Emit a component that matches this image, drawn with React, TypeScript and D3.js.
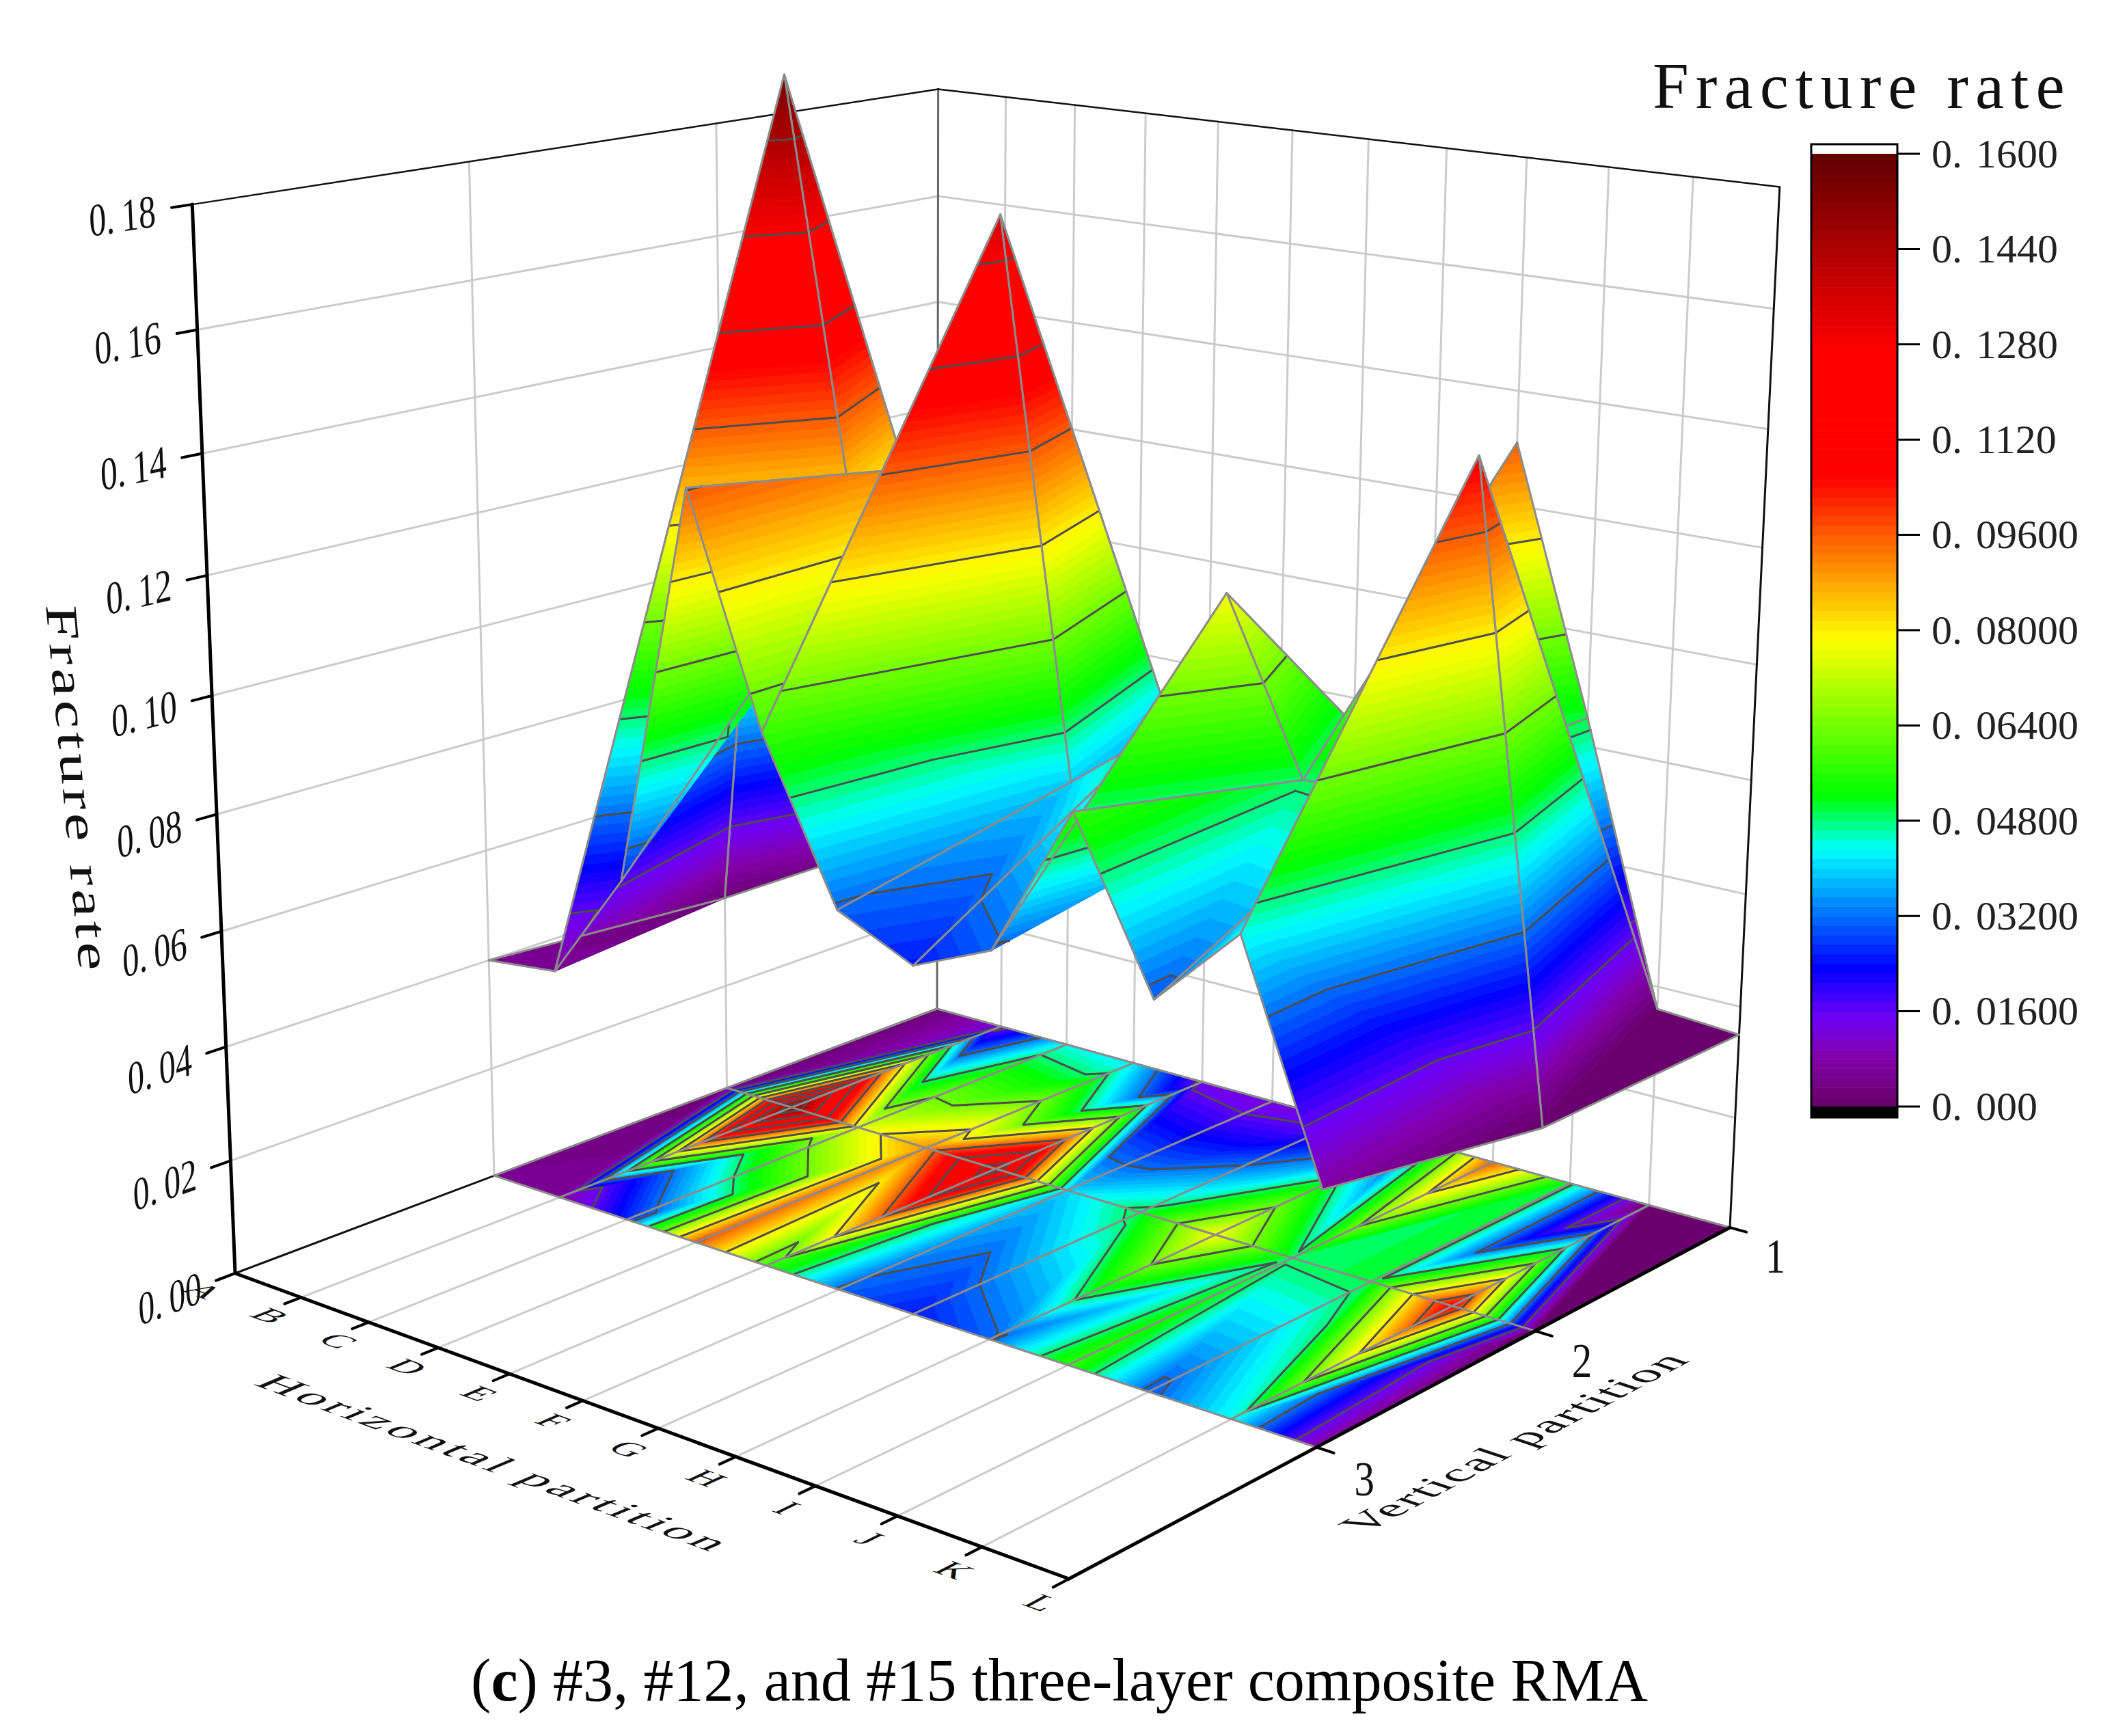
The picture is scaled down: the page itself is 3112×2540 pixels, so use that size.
import { useRef, useEffect } from "react";
import * as d3 from "d3";

const columns = ["A", "B", "C", "D", "E", "F", "G", "H", "I", "J", "K", "L"];
const rows = [1, 2, 3];
const row1 = [0.002, 0.013, 0.044, 0.042, 0.014, 0.012, 0.014, 0.029, 0.096, 0.05, 0.001, 0];
const row2 = [0.002, 0.155, 0.075, 0.09, 0.1357, 0.0395, 0.05, 0.078, 0.049, 0.05, 0.108, 0];
const row3 = [0.005, 0.0065, 0.026, 0.0964, 0.058, 0.031, 0.025, 0.031, 0.057, 0.03, 0.044, 0.007];
const grid = [row1, row2, row3];

const zTicks = [0, 0.02, 0.04, 0.06, 0.08, 0.1, 0.12, 0.14, 0.16, 0.18];
const legendTicks = ["0.000", "0.01600", "0.03200", "0.04800", "0.06400", "0.08000", "0.09600", "0.1120", "0.1280", "0.1440", "0.1600"];
const colorStops = [0, 0.008, 0.015, 0.0234, 0.0432, 0.0523, 0.0785, 0.1057, 0.127, 0.16];
const colorValues = ["#660066", "#8200a8", "#6e00f5", "#0000ff", "#00ffff", "#00ff00", "#ffff00", "#ff0000", "#ff0000", "#600000"];

const BAND = 0.0016;
const LEVEL = 0.016;
const SURFACE_SHIFT = 0.035; // surface floats above its contour projection on the floor
const SERIF = "'Liberation Serif', serif";

// box corners in page pixels, used to calibrate the perspective
const BACK = [1371, 1476];
const RIGHT = [2531, 1796];
const ORIGIN = [344, 1863];
const FRONT = [1564, 2310];
const TOP_LEFT = [284, 309];
const TOP_BACK = [1371, 112];
const TOP_RIGHT = [2603, 285];

const xScale = d3.scaleLinear().domain([0, 11]).range([0, 1]);
const yScale = d3.scaleLinear().domain([1, 4]).range([0, 1]);
const zScale = d3.scaleLinear().domain([0, 0.18]).range([0, 1]);
const colorScale = d3.scaleLinear<string>().domain(colorStops).range(colorValues).clamp(true);

function solve3(m: number[][], b: number[]) {
  const a = m.map((r, i) => [...r, b[i]]);
  for (let i = 0; i < 3; i++) {
    let p = i;
    for (let k = i + 1; k < 3; k++) if (Math.abs(a[k][i]) > Math.abs(a[p][i])) p = k;
    [a[i], a[p]] = [a[p], a[i]];
    for (let k = 0; k < 3; k++) {
      if (k === i) continue;
      const f = a[k][i] / a[i][i];
      for (let c = i; c < 4; c++) a[k][c] -= f * a[i][c];
    }
  }
  return a.map((r, i) => r[3] / r[i]);
}

function makeProjection() {
  const [x0, y0] = BACK;
  const [x1, y1] = RIGHT;
  const [x2, y2] = FRONT;
  const [x3, y3] = ORIGIN;
  const dx1 = x1 - x2, dx2 = x3 - x2, sx = x0 - x1 + x2 - x3;
  const dy1 = y1 - y2, dy2 = y3 - y2, sy = y0 - y1 + y2 - y3;
  const den = dx1 * dy2 - dx2 * dy1;
  const g = (sx * dy2 - dx2 * sy) / den;
  const h = (dx1 * sy - sx * dy1) / den;
  const a = x1 - x0 + g * x1, b = x3 - x0 + h * x3, c = x0;
  const d = y1 - y0 + g * y1, e = y3 - y0 + h * y3, f = y0;

  // vertical column of the matrix, least squares over the three top corners
  const eqs: number[][] = [];
  const rhs: number[] = [];
  const tops: [number, number, number[]][] = [[0, 1, TOP_LEFT], [0, 0, TOP_BACK], [1, 0, TOP_RIGHT]];
  tops.forEach(([u, v, [X, Y]]) => {
    const w = g * u + h * v + 1;
    eqs.push([1, 0, -X]);
    rhs.push(X * w - (a * u + b * v + c));
    eqs.push([0, 1, -Y]);
    rhs.push(Y * w - (d * u + e * v + f));
  });
  const ata = [0, 1, 2].map((i) => [0, 1, 2].map((j) => d3.sum(eqs, (q) => q[i] * q[j])));
  const atb = [0, 1, 2].map((i) => d3.sum(eqs, (q, k) => q[i] * rhs[k]));
  const [p, q, r] = solve3(ata, atb);

  return (col: number, row: number, val: number): [number, number] => {
    const u = xScale(col), v = yScale(row), t = zScale(val);
    const w = g * u + h * v + 1 + r * t;
    return [(a * u + b * v + c + p * t) / w, (d * u + e * v + f + q * t) / w];
  };
}

type Vert = { c: number; r: number; v: number };

function clip(poly: Vert[], level: number, above: boolean) {
  const out: Vert[] = [];
  const inside = (p: Vert) => (above ? p.v >= level : p.v <= level);
  poly.forEach((p, i) => {
    const n = poly[(i + 1) % poly.length];
    if (inside(p)) out.push(p);
    if (inside(p) !== inside(n)) {
      const t = (level - p.v) / (n.v - p.v);
      out.push({ c: p.c + t * (n.c - p.c), r: p.r + t * (n.r - p.r), v: level });
    }
  });
  return out;
}

function levelSegment(tri: Vert[], level: number) {
  const pts: Vert[] = [];
  tri.forEach((p, i) => {
    const n = tri[(i + 1) % 3];
    if ((p.v < level) !== (n.v < level)) {
      const t = (level - p.v) / (n.v - p.v);
      pts.push({ c: p.c + t * (n.c - p.c), r: p.r + t * (n.r - p.r), v: level });
    }
  });
  return pts.length === 2 ? pts : null;
}

const bands = d3.range(0, 100).map((i) => i * BAND);
const levels = d3.range(1, 10).map((i) => i * LEVEL);

const vert = (i: number, j: number): Vert => ({ c: i, r: rows[j], v: grid[j][i] });

const App = () => {
  const svgRef = useRef<SVGSVGElement>(null);

  useEffect(() => {
    const svg = d3.select(svgRef.current);
    svg.selectAll("*").remove();
    const project = makeProjection();
    const line = d3.line();

    const seg = (g: any, a: [number, number], b: [number, number], color: string, width: number) =>
      g.append("line").attr("x1", a[0]).attr("y1", a[1]).attr("x2", b[0]).attr("y2", b[1])
        .attr("stroke", color).attr("stroke-width", width).attr("stroke-linecap", "round");

    const unit = (a: [number, number], b: [number, number]) => {
      const l = Math.hypot(b[0] - a[0], b[1] - a[1]);
      return [(b[0] - a[0]) / l, (b[1] - a[1]) / l];
    };

    // text lying in a plane: u is reading direction, v is glyph-down direction
    const planeText = (
      label: string, pos: [number, number], u: number[], v: number[],
      size: number, sx: number, sy: number, spacing = 0, font = SERIF
    ) =>
      svg.append("text")
        .attr("transform", `matrix(${u[0] * sx},${u[1] * sx},${v[0] * sy},${v[1] * sy},${pos[0]},${pos[1]})`)
        .attr("text-anchor", "middle").attr("dy", "0.35em")
        .attr("font-family", font).attr("font-size", size).attr("letter-spacing", spacing)
        .attr("fill", "#111").text(label);

    const spaced = (sel: any, label: string, gap: number) => {
      sel.text(null);
      const [a, b] = label.split(".");
      sel.append("tspan").text(a + ".");
      sel.append("tspan").attr("dx", gap).text(b);
    };

    // walls and floor
    const walls = svg.append("g");
    const gridColor = "#cbcbcb";
    zTicks.slice(1, -1).forEach((z) => {
      seg(walls, project(0, 4, z), project(0, 1, z), gridColor, 3);
      seg(walls, project(0, 1, z), project(11, 1, z), gridColor, 3);
    });
    [2, 3].forEach((r) => {
      seg(walls, project(0, r, 0), project(0, r, 0.18), gridColor, 3);
      seg(walls, project(0, r, 0), project(11, r, 0), gridColor, 3);
    });
    columns.slice(1, -1).forEach((_, k) => {
      const i = k + 1;
      seg(walls, project(i, 1, 0), project(i, 1, 0.18), gridColor, 3);
      seg(walls, project(i, 4, 0), project(i, 1, 0), gridColor, 3);
    });
    seg(walls, project(0, 1, 0), project(0, 1, 0.18), "#666", 3);
    seg(walls, project(0, 4, 0.18), project(0, 1, 0.18), "#111", 2.5);
    seg(walls, project(0, 1, 0.18), project(11, 1, 0.18), "#111", 2.5);
    seg(walls, project(11, 1, 0), project(11, 1, 0.18), "#111", 3);
    seg(walls, project(0, 4, 0), project(0, 1, 0), "#111", 3);
    seg(walls, project(0, 1, 0), project(11, 1, 0), "#111", 2.5);

    const drawQuad = (g: any, i: number, j: number, map: (c: number, r: number, v: number) => [number, number], contourWidth: number, meshWidth: number) => {
      const a = vert(i, j), b = vert(i + 1, j), c = vert(i + 1, j + 1), d = vert(i, j + 1);
      // each quad is split by the diagonal that keeps clear of its highest corner
      const top = Math.max(a.v, b.v, c.v, d.v);
      const tris = a.v === top || c.v === top ? [[a, b, d], [b, c, d]] : [[a, b, c], [a, c, d]];
      tris.forEach((tri) => {
        const lo = d3.min(tri, (p) => p.v) as number;
        const hi = d3.max(tri, (p) => p.v) as number;
        bands.forEach((b0) => {
          if (b0 + BAND < lo || b0 > hi) return;
          const poly = clip(clip(tri, b0, true), b0 + BAND, false);
          if (poly.length < 3) return;
          const color = colorScale(b0 + BAND / 2);
          g.append("path")
            .attr("d", line(poly.map((p) => map(p.c, p.r, p.v))) + "Z")
            .attr("fill", color).attr("stroke", color).attr("stroke-width", 1);
        });
      });
      tris.forEach((tri) => {
        levels.forEach((lv) => {
          const s = levelSegment(tri, lv);
          if (!s) return;
          seg(g, map(s[0].c, s[0].r, lv), map(s[1].c, s[1].r, lv), "#4d4d4d", contourWidth);
        });
      });
      [[a, b], [b, c], [c, d], [d, a]].forEach(([p, q]) => {
        seg(g, map(p.c, p.r, p.v), map(q.c, q.r, q.v), "#8c8c8c", meshWidth);
      });
    };

    // contour projection on the floor
    const floor = svg.append("g");
    const floorMap = (c: number, r: number) => project(c, r, 0);
    for (let j = 0; j < rows.length - 1; j++)
      for (let i = 0; i < columns.length - 1; i++) drawQuad(floor, i, j, floorMap, 3, 3);

    // raised surface, painted from the far corner to the near one
    const surface = svg.append("g");
    const surfaceMap = (c: number, r: number, v: number) => project(c, r, v + SURFACE_SHIFT);
    for (let j = 0; j < rows.length - 1; j++)
      for (let i = 0; i < columns.length - 1; i++) drawQuad(surface, i, j, surfaceMap, 3, 3);

    // axes
    const axes = svg.append("g");
    seg(axes, project(0, 4, 0), project(0, 4, 0.18), "#000", 5);
    seg(axes, project(0, 4, 0), project(11, 4, 0), "#000", 5);
    seg(axes, project(11, 4, 0), project(11, 1, 0), "#000", 5);
    zTicks.forEach((z) => {
      seg(axes, project(0, 4, z), project(0, 4.07, z), "#000", 4);
      const u = unit(project(0, 4, z), project(0, 3.5, z));
      const v = unit(project(0, 4, z + 0.01), project(0, 4, z));
      const t = planeText(d3.format(".2f")(z), project(0, 4.235, z), u, v, 68, 0.74, 1);
      spaced(t, d3.format(".2f")(z), 14);
    });
    columns.forEach((name, i) => {
      seg(axes, project(i, 4, 0), project(i, 4.06, 0), "#000", 4);
      const u = unit(project(i, 4, 0), project(i + 0.5, 4, 0));
      const v = unit(project(i, 3.8, 0), project(i, 4, 0));
      planeText(name, project(i + 0.12, 4.14, 0), u, v, 42, 1.3, 1.2);
    });
    rows.forEach((r) => {
      seg(axes, project(11, r, 0), project(11.2, r, 0), "#000", 4);
      const p = project(11.55, r, 0);
      svg.append("text").attr("transform", `translate(${p[0]},${p[1] + 22}) scale(0.82,1)`)
        .attr("text-anchor", "middle").attr("dy", "0.35em")
        .attr("font-family", SERIF).attr("font-size", 72).attr("fill", "#111").text(r);
    });

    // axis titles
    planeText("Fracture rate", [115, 1155], [0.092, 0.996], [-1, 0], 66, 1.4, 1, 4);
    planeText("Horizontal partition", project(5.4, 4.42, 0),
      unit(project(3, 4, 0), project(5, 4, 0)), unit(project(4, 3.8, 0), project(4, 4, 0)), 60, 1.25, 1, 5);
    const vu = unit(project(11, 3.4, 0), project(11, 2, 0));
    const vv = unit(project(10, 3, 0), project(11, 3, 0));
    planeText("Vertical partition", [2215, 2110], vu, vv, 62, 1.15, 1.05, 3);

    // legend
    const legend = svg.append("g");
    const legendY = d3.scaleLinear().domain([0, 0.16]).range([1619, 225]);
    bands.forEach((b0) => {
      legend.append("rect").attr("x", 2650).attr("width", 126)
        .attr("y", legendY(b0 + BAND)).attr("height", legendY(b0) - legendY(b0 + BAND) + 0.5)
        .attr("fill", colorScale(b0 + BAND / 2));
    });
    legend.append("rect").attr("x", 2650).attr("y", 1619).attr("width", 126).attr("height", 16).attr("fill", "#000");
    legend.append("rect").attr("x", 2650).attr("y", 211).attr("width", 126).attr("height", 1424)
      .attr("fill", "none").attr("stroke", "#000").attr("stroke-width", 3);
    legendTicks.forEach((t) => {
      const y = legendY(+t);
      legend.append("line").attr("x1", 2776).attr("x2", 2809).attr("y1", y).attr("y2", y)
        .attr("stroke", "#000").attr("stroke-width", 3);
      const label = legend.append("text").attr("x", 2826).attr("y", y).attr("dy", "0.33em")
        .attr("font-family", SERIF).attr("font-size", 60).attr("fill", "#222");
      spaced(label, t, 20);
    });
    svg.append("text").attr("x", 2418).attr("y", 158)
      .attr("font-family", SERIF).attr("font-size", 95).attr("letter-spacing", 10).attr("fill", "#111")
      .text("Fracture rate");

    // caption
    const caption = svg.append("text").attr("x", 689).attr("y", 2488)
      .attr("font-family", SERIF).attr("font-size", 88).attr("fill", "#000")
      .attr("textLength", 1722).attr("lengthAdjust", "spacing");
    caption.append("tspan").text("(");
    caption.append("tspan").attr("font-weight", "bold").text("c");
    caption.append("tspan").text(") #3, #12, and #15 three-layer composite RMA");
  }, []);

  return <svg ref={svgRef} width={3112} height={2540} style={{ position: "absolute", left: 0, top: 0, background: "#fff" }} />;
};

export default App;
